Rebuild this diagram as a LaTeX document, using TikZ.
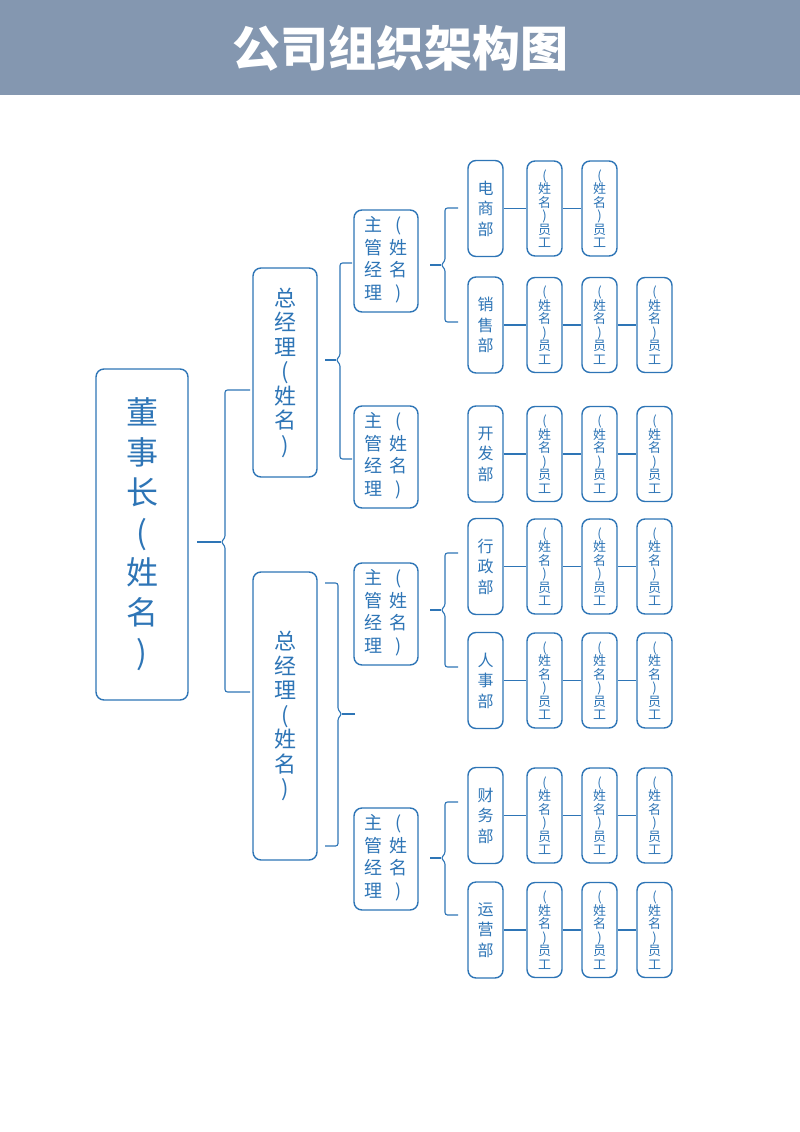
\documentclass[tikz,border=0pt]{standalone}
\usepackage{fontspec}
\usepackage{tikz}
\usetikzlibrary{calc}

\newfontfamily\cjk{Noto Sans CJK SC}
\definecolor{orgblue}{RGB}{46,117,182}
\definecolor{headgray}{RGB}{132,151,176}

% name text of a manager box, two columns
\newcommand\mgrname{\begin{tabular}{@{}c@{\hspace{7pt}}c@{}}主&(\\管&姓\\经&名\\理&)\end{tabular}}

% bracket: #1 stub end, #2 top end, #3 bottom end, #4 spine x, #5 cusp shift
\newcommand\joinbrace[5]{%
	\draw[link, rounded corners=2.5pt] (#2) -- (#4,0 |- #2)
		-- ($(#4,0 |- #1)+(0,-4)$) -- ($(#4,0 |- #1)+(#5,0)$)
		-- ($(#4,0 |- #1)+(0,4)$) -- (#4,0 |- #3) -- (#3);
	\draw[link] (#1) -- ($(#4,0 |- #1)+(#5,0)$);}

\begin{document}
\begin{tikzpicture}[x=1pt, y=-1pt,
	box/.style={draw=orgblue, line width=1.4pt, rounded corners=8pt, fill=white,
		inner sep=0pt, text=orgblue, align=center},
	chair/.style={box, minimum width=92pt, minimum height=331pt,
		font=\cjk\fontsize{32}{40}\selectfont},
	gmbox/.style={box, minimum width=64pt, font=\cjk\fontsize{22}{24.5}\selectfont},
	mgrbox/.style={box, minimum width=64pt, minimum height=102pt,
		font=\cjk\fontsize{18}{22.7}\selectfont},
	deptbox/.style={box, minimum width=35pt, minimum height=96pt,
		font=\cjk\fontsize{16}{20.5}\selectfont},
	empbox/.style={box, minimum width=35pt, minimum height=95pt,
		font=\cjk\fontsize{13}{13.5}\selectfont},
	link/.style={draw=orgblue, line width=1.1pt}]
	\useasboundingbox (0,0) rectangle (800,1132);

	% header
	\fill[headgray] (0,0) rectangle (800,95);
	\node (title) at (400,48) [text=white, font=\cjk\bfseries\fontsize{48}{50}\selectfont] {公司组织架构图};

	% chairman and general managers
	\node (ch) at (142,534.5) [chair] {董\\事\\长\\(\\姓\\名\\)};
	\node (gA) at (285,372.5) [gmbox, minimum height=209pt] {总\\经\\理\\(\\姓\\名\\)};
	\node (gB) at (285,716) [gmbox, minimum height=288pt] {总\\经\\理\\(\\姓\\名\\)};

	% managers
	\node (mA) at (386,261) [mgrbox] {\mgrname};
	\node (mB) at (386,457) [mgrbox] {\mgrname};
	\node (mC) at (386,614) [mgrbox] {\mgrname};
	\node (mD) at (386,859) [mgrbox] {\mgrname};

	% departments
	\node (d1) at (485.5,208.5) [deptbox] {电\\商\\部};
	\node (d2) at (485.5,325) [deptbox] {销\\售\\部};
	\node (d3) at (485.5,454) [deptbox] {开\\发\\部};
	\node (d4) at (485.5,566.5) [deptbox] {行\\政\\部};
	\node (d5) at (485.5,680.5) [deptbox] {人\\事\\部};
	\node (d6) at (485.5,815.5) [deptbox] {财\\务\\部};
	\node (d7) at (485.5,930) [deptbox] {运\\营\\部};

	% staff
	\node (e11) at (544.5,208.5) [empbox] {(\\姓\\名\\)\\员\\工};
	\node (e12) at (599.5,208.5) [empbox] {(\\姓\\名\\)\\员\\工};
	\node (e21) at (544.5,325) [empbox] {(\\姓\\名\\)\\员\\工};
	\node (e22) at (599.5,325) [empbox] {(\\姓\\名\\)\\员\\工};
	\node (e23) at (654.5,325) [empbox] {(\\姓\\名\\)\\员\\工};
	\node (e31) at (544.5,454) [empbox] {(\\姓\\名\\)\\员\\工};
	\node (e32) at (599.5,454) [empbox] {(\\姓\\名\\)\\员\\工};
	\node (e33) at (654.5,454) [empbox] {(\\姓\\名\\)\\员\\工};
	\node (e41) at (544.5,566.5) [empbox] {(\\姓\\名\\)\\员\\工};
	\node (e42) at (599.5,566.5) [empbox] {(\\姓\\名\\)\\员\\工};
	\node (e43) at (654.5,566.5) [empbox] {(\\姓\\名\\)\\员\\工};
	\node (e51) at (544.5,680.5) [empbox] {(\\姓\\名\\)\\员\\工};
	\node (e52) at (599.5,680.5) [empbox] {(\\姓\\名\\)\\员\\工};
	\node (e53) at (654.5,680.5) [empbox] {(\\姓\\名\\)\\员\\工};
	\node (e61) at (544.5,815.5) [empbox] {(\\姓\\名\\)\\员\\工};
	\node (e62) at (599.5,815.5) [empbox] {(\\姓\\名\\)\\员\\工};
	\node (e63) at (654.5,815.5) [empbox] {(\\姓\\名\\)\\员\\工};
	\node (e71) at (544.5,930) [empbox] {(\\姓\\名\\)\\员\\工};
	\node (e72) at (599.5,930) [empbox] {(\\姓\\名\\)\\员\\工};
	\node (e73) at (654.5,930) [empbox] {(\\姓\\名\\)\\员\\工};

	% rows
	\draw[link] (d1) -- (e11) -- (e12);
	\draw[link] (d2) -- (e21) -- (e22) -- (e23);
	\draw[link] (d3) -- (e31) -- (e32) -- (e33);
	\draw[link] (d4) -- (e41) -- (e42) -- (e43);
	\draw[link] (d5) -- (e51) -- (e52) -- (e53);
	\draw[link] (d6) -- (e61) -- (e62) -- (e63);
	\draw[link] (d7) -- (e71) -- (e72) -- (e73);

	% bracket ends
	\coordinate (ch-r) at (197,542);
	\coordinate (gA-l) at (250,390);
	\coordinate (gB-l) at (250,692);
	\coordinate (gA-r) at (325,360);
	\coordinate (mA-l) at (352,263);
	\coordinate (mB-l) at (352,459);
	\coordinate (gB-r) at (355,714);
	\coordinate (gB-t) at (325,583);
	\coordinate (gB-b) at (325,846);
	\coordinate (mA-r) at (430,265);
	\coordinate (d1-l) at (458,208);
	\coordinate (d2-l) at (458,322);
	\coordinate (mC-r) at (430,610);
	\coordinate (d4-l) at (458,553);
	\coordinate (d5-l) at (458,667);
	\coordinate (mD-r) at (430,858);
	\coordinate (d6-l) at (458,802);
	\coordinate (d7-l) at (458,915);

	% brackets
	\joinbrace{ch-r}{gA-l}{gB-l}{225}{-4}
	\joinbrace{gA-r}{mA-l}{mB-l}{340}{-4}
	\joinbrace{gB-r}{gB-t}{gB-b}{338}{4}
	\joinbrace{mA-r}{d1-l}{d2-l}{445}{-4}
	\joinbrace{mC-r}{d4-l}{d5-l}{445}{-4}
	\joinbrace{mD-r}{d6-l}{d7-l}{445}{-4}
\end{tikzpicture}
\end{document}
